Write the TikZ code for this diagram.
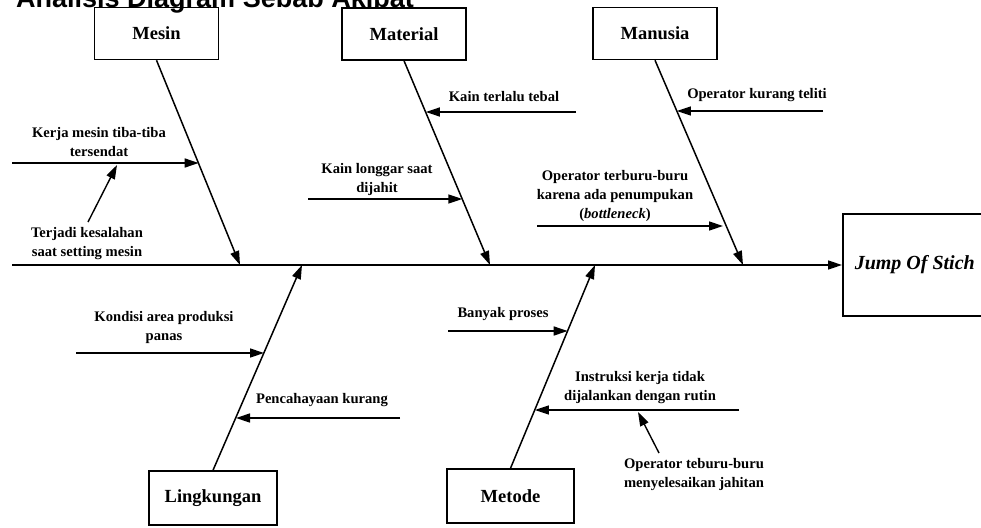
\documentclass[tikz,border=0pt]{standalone}
\usepackage{fontspec}
\setmainfont{Liberation Serif}
\newfontfamily\titlefont{Liberation Sans}
\usetikzlibrary{arrows.meta,positioning}

\begin{document}
\begin{tikzpicture}[
  x=1pt, y=-1pt,
  cat/.style={rectangle, draw, line width=1.5pt, minimum width=124pt,
    minimum height=52pt, font=\bfseries\fontsize{18.5}{22}\selectfont},
  cause/.style={align=center, inner sep=0pt, font=\bfseries\fontsize{14.6}{19}\selectfont},
  bone/.style={line width=1.5pt, -{Triangle[length=14pt,width=9pt]}},
  arr/.style={line width=1.4pt, -{Triangle[length=14pt,width=9pt]}},
]
\useasboundingbox (0,0) rectangle (981,527);
\node[anchor=base west, inner sep=0pt, font=\titlefont\bfseries\fontsize{27}{30}\selectfont]
  (title) at (16,8) {Analisis Diagram Sebab Akibat};

\node[cat] (mesin) at (156.5,33.5) {Mesin};
\node[cat] (material) at (404,34) {Material};
\node[cat] (manusia) at (655,33.5) {Manusia};
\node[cat, minimum width=128pt, minimum height=54pt] (lingkungan) at (213,498) {Lingkungan};
\node[cat, minimum width=127pt, minimum height=54pt] (metode) at (510.5,496) {Metode};
\node[cat, minimum width=144pt, minimum height=102pt, font=\bfseries\itshape\fontsize{20}{24}\selectfont,
  anchor=west] (akibat) at (842,265) {Jump Of Stich};

% tulang utama
\coordinate (s0) at (12,265);
\draw[bone] (s0) -- (akibat.west);
\coordinate (tmesin) at (240,265);
\coordinate (tmaterial) at (490,265);
\coordinate (tmanusia) at (743,265);
\coordinate (tling) at (302,265);
\coordinate (tmetode) at (595,265);
\draw[bone] (mesin.south) -- (tmesin);
\draw[bone] (material.south) -- (tmaterial);
\draw[bone] (manusia.south) -- (tmanusia);
\draw[bone] (lingkungan.north) -- (tling);
\draw[bone] (metode.north) -- (tmetode);

% mesin
\node[cause] (kerja) at (99,142) {Kerja mesin tiba-tiba\\tersendat};
\node[cause] (salah) at (87,244) {Terjadi kesalahan\\saat setting mesin};
\coordinate (kerja0) at (12,163);
\coordinate (kerja1) at (198.7,163);
\coordinate (salah0) at (88,222);
\coordinate (salah1) at (117,165);
\draw[arr] (kerja0) -- (kerja1);
\draw[arr] (salah0) -- (salah1);

% material
\node[cause] (tebal) at (504,97) {Kain terlalu tebal};
\node[cause] (longgar) at (377,179) {Kain longgar saat\\dijahit};
\coordinate (tebal0) at (576,112);
\coordinate (tebal1) at (425.8,112);
\coordinate (longgar0) at (308,199);
\coordinate (longgar1) at (462.3,199);
\draw[arr] (tebal0) -- (tebal1);
\draw[arr] (longgar0) -- (longgar1);

% manusia
\node[cause] (teliti) at (757,95) {Operator kurang teliti};
\node[cause] (buru) at (615,196) {Operator terburu-buru\\karena ada penumpukan\\(\textit{bottleneck})};
\coordinate (teliti0) at (823,111);
\coordinate (teliti1) at (676.9,111);
\coordinate (buru0) at (537,226);
\coordinate (buru1) at (723,226);
\draw[arr] (teliti0) -- (teliti1);
\draw[arr] (buru0) -- (buru1);

% lingkungan
\node[cause] (panas) at (164,327) {Kondisi area produksi\\panas};
\node[cause] (cahaya) at (322,400) {Pencahayaan kurang};
\coordinate (panas0) at (76,353);
\coordinate (panas1) at (264,353);
\coordinate (cahaya0) at (400,418);
\coordinate (cahaya1) at (236,418);
\draw[arr] (panas0) -- (panas1);
\draw[arr] (cahaya0) -- (cahaya1);

% metode
\node[cause] (proses) at (503,314) {Banyak proses};
\node[cause] (instruksi) at (640,388) {Instruksi kerja tidak\\dijalankan dengan rutin};
\node[cause] (jahitan) at (694,475) {Operator teburu-buru\\menyelesaikan jahitan};
\coordinate (proses0) at (448,331);
\coordinate (proses1) at (567.7,331);
\coordinate (instruksi0) at (739,410);
\coordinate (instruksi1) at (534.9,410);
\coordinate (jahitan0) at (659,453);
\coordinate (jahitan1) at (638,412);
\draw[arr] (proses0) -- (proses1);
\draw[arr] (instruksi0) -- (instruksi1);
\draw[arr] (jahitan0) -- (jahitan1);
\end{tikzpicture}
\end{document}
